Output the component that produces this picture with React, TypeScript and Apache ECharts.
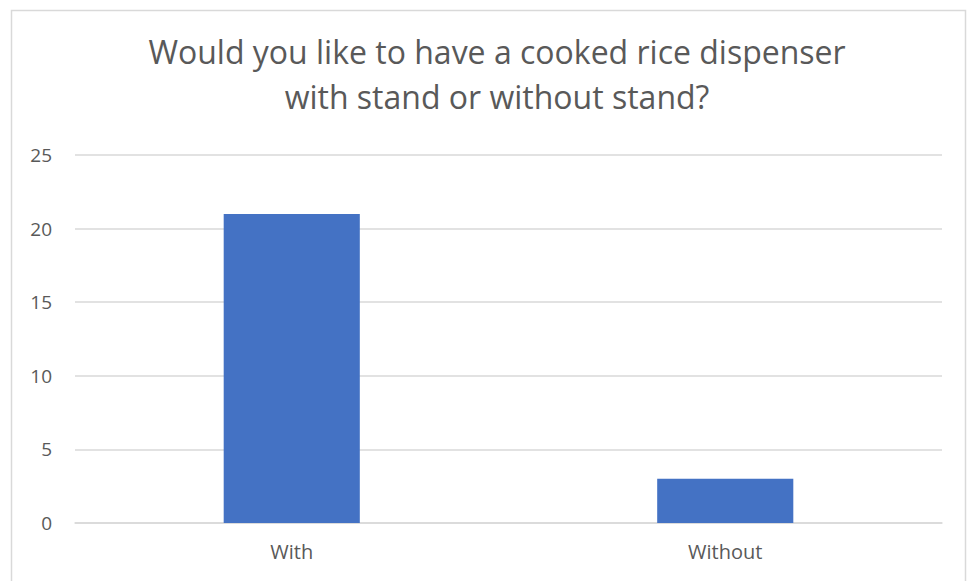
import React, { useEffect, useRef } from "react";
import * as echarts from "echarts";

const categories = ["With", "Without"];
const values = [21, 3];
const titleText = "Would you like to have a cooked rice dispenser\nwith stand or without stand?";

export default function App() {
  const ref = useRef<HTMLDivElement>(null);
  useEffect(() => {
    document.body.style.margin = "0";
    const chart = echarts.init(ref.current!, null, { renderer: "svg" });
    chart.setOption({
      animation: false,
      backgroundColor: "#ffffff",
      textStyle: { fontFamily: "Open Sans" },
      title: {
        text: titleText,
        left: 492,
        textAlign: "center",
        top: 24,
        textStyle: {
          fontFamily: "Open Sans",
          fontSize: 32,
          fontWeight: "normal",
          color: "#595959",
          lineHeight: 45,
        },
      },
      graphic: [
        {
          type: "rect",
          shape: { x: 11.5, y: 10.5, width: 954, height: 620 },
          style: { fill: "none", stroke: "#d9d9d9", lineWidth: 1.5 },
          silent: true,
        },
      ],
      grid: { left: 75, right: 31, top: 155, bottom: 58 },
      xAxis: {
        type: "category",
        data: categories,
        axisTick: { show: false },
        axisLine: { lineStyle: { color: "#d9d9d9", width: 1.5 } },
        axisLabel: { color: "#595959", fontSize: 20, margin: 18, fontFamily: "Open Sans" },
      },
      yAxis: {
        type: "value",
        min: 0,
        max: 25,
        interval: 5,
        axisLine: { show: false },
        axisTick: { show: false },
        splitLine: { lineStyle: { color: "#d9d9d9", width: 1.5 } },
        axisLabel: { color: "#595959", fontSize: 19, margin: 23, fontFamily: "Open Sans" },
      },
      series: [
        {
          type: "bar",
          data: values,
          barWidth: "31.4%",
          itemStyle: { color: "#4472c4" },
        },
      ],
    });
    return () => chart.dispose();
  }, []);
  return <div ref={ref} style={{ width: 973, height: 581 }} />;
}
